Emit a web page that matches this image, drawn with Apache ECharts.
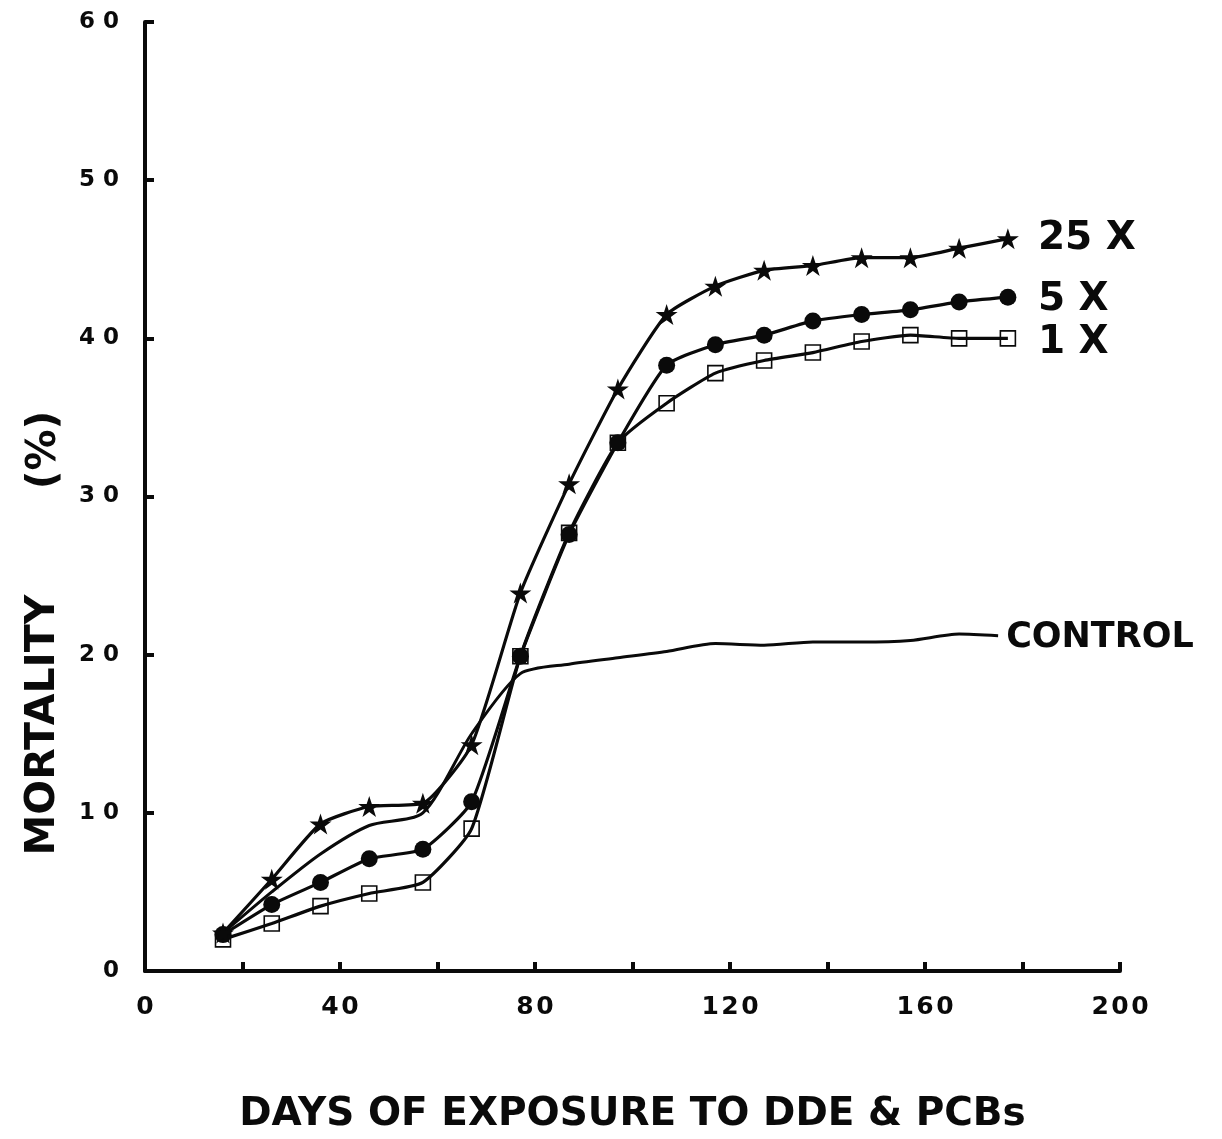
<!DOCTYPE html>
<html>
<head>
<meta charset="utf-8">
<title>Mortality vs days of exposure to DDE & PCBs</title>
<script src="https://cdn.jsdelivr.net/npm/echarts@6/dist/echarts.min.js"></script>
<style>
  html, body { margin: 0; padding: 0; background: #fff; }
  #chart { width: 1222px; height: 1139px; }
</style>
</head>
<body>
<div id="chart"></div>
<script>
// Days of exposure at which mortality was recorded
var days = [16, 26, 36, 46, 57, 67, 77, 87, 97, 107, 117, 127, 137, 147, 157, 167, 177];
var controlDays = [16, 26, 36, 46, 57, 67, 77, 87, 97, 107, 117, 127, 137, 147, 157, 167, 175];

// Cumulative mortality (%) for each dose group
var mort25x = [2.4, 5.8, 9.3, 10.4, 10.6, 14.3, 23.9, 30.8, 36.8, 41.5, 43.3, 44.3, 44.6, 45.1, 45.1, 45.7, 46.3];
var mort5x  = [2.3, 4.2, 5.6, 7.1, 7.7, 10.7, 19.9, 27.6, 33.4, 38.3, 39.6, 40.2, 41.1, 41.5, 41.8, 42.3, 42.6];
var mort1x  = [2.0, 3.0, 4.1, 4.9, 5.6, 9.0, 19.9, 27.7, 33.4, 35.9, 37.8, 38.6, 39.1, 39.8, 40.2, 40.0, 40.0];
var mortControl = [2.4, 5.0, 7.4, 9.2, 10.0, 15.0, 18.8, 19.4, 19.8, 20.2, 20.7, 20.6, 20.8, 20.8, 20.9, 21.3, 21.2];

// Series names (drawn as end-of-line labels)
var seriesNames = ['25 X', '5 X', '1 X', 'CONTROL'];

// Axis tick settings
var xTicks = { min: 0, max: 200, step: 20, labelEvery: 40 };
var yTicks = { min: 0, max: 60, step: 10 };

var FONT = '"DejaVu Sans", "Liberation Sans", sans-serif';
var INK = '#0a0a0a';

function pairs(xs, ys) { return xs.map(function (x, i) { return [x, ys[i]]; }); }
function spaced(v) { return String(v).split('').join(' '); }

var starPath = 'path://M50,0L61.2,34.5L97.6,34.5L68.2,55.9L79.4,90.5L50,69.1L20.6,90.5L31.8,55.9L2.4,34.5L38.8,34.5Z';

function endLabel(fontSize, distance, dy) {
  return {
    show: true,
    formatter: '{a}',
    color: INK,
    fontFamily: FONT,
    fontWeight: 'bold',
    fontSize: fontSize,
    distance: distance,
    offset: [0, dy || 0]
  };
}

var chart = echarts.init(document.getElementById('chart'), null, { renderer: 'canvas' });

chart.setOption({
  backgroundColor: '#ffffff',
  animation: false,
  grid: { left: 145, right: 102, top: 22, bottom: 157, containLabel: false },
  xAxis: {
    type: 'value',
    min: xTicks.min, max: xTicks.max, interval: xTicks.step,
    name: 'DAYS OF EXPOSURE TO DDE & PCBs',
    nameLocation: 'middle',
    nameGap: 124,
    nameTextStyle: { color: INK, fontFamily: FONT, fontWeight: 'bold', fontSize: 39 },
    axisLine: { show: true, onZero: false, lineStyle: { color: INK, width: 4 } },
    axisTick: { show: true, inside: true, length: 9, lineStyle: { color: INK, width: 4 } },
    axisLabel: {
      margin: 24, color: INK, fontFamily: FONT, fontWeight: 'bold', fontSize: 25,
      formatter: function (v) { return v % xTicks.labelEvery === 0 ? String(v).split('').join('\u200a') : ''; }
    },
    splitLine: { show: false }
  },
  yAxis: {
    type: 'value',
    min: yTicks.min, max: yTicks.max, interval: yTicks.step,
    axisLine: { show: true, onZero: false, lineStyle: { color: INK, width: 4 } },
    axisTick: { show: true, inside: true, length: 9, lineStyle: { color: INK, width: 4 } },
    axisLabel: {
      margin: 26, color: INK, fontFamily: FONT, fontWeight: 'bold', fontSize: 23,
      formatter: function (v) { return spaced(v); }
    },
    splitLine: { show: false }
  },
  graphic: [
    {
      type: 'text', x: 43, y: 725, rotation: Math.PI / 2,
      style: { text: 'MORTALITY', fill: INK, font: 'bold 41px ' + FONT, textAlign: 'center', textVerticalAlign: 'middle' }
    },
    {
      type: 'text', x: 44, y: 450, rotation: Math.PI / 2,
      style: { text: '(%)', fill: INK, font: 'bold 41px ' + FONT, textAlign: 'center', textVerticalAlign: 'middle' }
    }
  ],
  series: [
    {
      name: seriesNames[3], type: 'line', data: pairs(controlDays, mortControl),
      smooth: 0.25, symbol: 'none', z: 2,
      lineStyle: { color: INK, width: 3 },
      endLabel: endLabel(35, 8, 2)
    },
    {
      name: seriesNames[2], type: 'line', data: pairs(days, mort1x),
      smooth: 0.18, symbol: 'rect', symbolSize: 15, z: 3,
      lineStyle: { color: INK, width: 3.2 },
      itemStyle: { color: 'rgba(255,255,255,0)', borderColor: INK, borderWidth: 1.6 },
      endLabel: endLabel(39, 30, 5)
    },
    {
      name: seriesNames[1], type: 'line', data: pairs(days, mort5x),
      smooth: 0.18, symbol: 'circle', symbolSize: 17, z: 4,
      lineStyle: { color: INK, width: 3.2 },
      itemStyle: { color: INK, borderColor: INK, borderWidth: 0 },
      endLabel: endLabel(39, 30, 3)
    },
    {
      name: seriesNames[0], type: 'line', data: pairs(days, mort25x),
      smooth: 0.18, symbol: starPath, symbolSize: [22, 21], z: 5,
      lineStyle: { color: INK, width: 3.2 },
      itemStyle: { color: INK, borderColor: INK, borderWidth: 0 },
      endLabel: endLabel(39, 30, 0)
    }
  ]
});
</script>
</body>
</html>
